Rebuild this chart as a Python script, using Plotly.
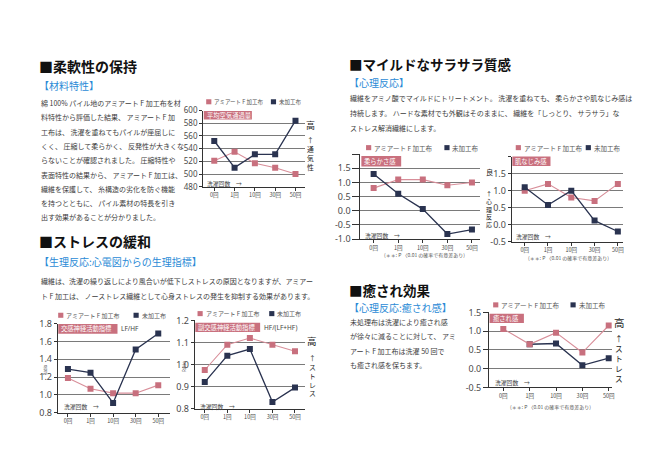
import plotly.graph_objects as go

W, H = 650, 460
JP = "Noto Sans CJK JP"
NUM = "Noto Sans"

def px(x):
    return x / W

def py(y):
    return 1 - y / H

# ---------------- data ----------------
categories = ["0回", "1回", "10回", "30回", "50回"]
series_names = ["アミアート F 加工布", "未加工布"]

air_amiart = [521, 535, 517, 510, 500]
air_untreated = [552, 510, 531, 531, 584]

lfhf_amiart = [1.19, 1.07, 1.02, 1.02, 1.11]
lfhf_untreated = [1.29, 1.25, 0.91, 1.51, 1.69]

hf_amiart = [0.975, 1.09, 1.12, 1.09, 1.06]
hf_untreated = [0.92, 1.04, 1.07, 0.83, 0.895]

soft_amiart = [0.8, 1.1, 1.1, 0.9, 1.0]
soft_untreated = [1.3, 0.6, 0.06, -0.82, -0.66]

skin_amiart = [1.0, 1.2, 0.8, 0.7, 1.2]
skin_untreated = [1.1, 0.58, 1.0, 0.12, -0.2]

heal_amiart = [1.06, 0.65, 0.96, 0.43, 1.15]
heal_untreated = [None, 0.65, 0.67, 0.09, 0.28]

air_ticks = [480, 500, 520, 540, 560, 580, 600]
lfhf_ticks = [0.8, 1.0, 1.2, 1.4, 1.6, 1.8]
hf_ticks = [0.8, 0.9, 1.0, 1.1, 1.2]
soft_ticks = [-1.0, -0.5, 0.0, 0.5, 1.0, 1.5, 2.0]
skin_ticks = [-0.5, 0.0, 0.5, 1.0, 1.5, 2.0]
heal_ticks = [-0.5, 0.0, 0.5, 1.0, 1.5]

PINK = "#c8707e"
PINK_LINE = "#d88e99"
NAVY = "#2a3350"
GRID = "#7a7a7a"
AXIS = "#333333"
TICKC = "#4a4a4a"
BLUE = "#2a8ad6"
BODY = "#3c3c3c"

charts = [
    dict(x0=196, x1=298, yt=98.3, yb=176.7, yr=[480, 600], ticks=air_ticks,
         labels=[str(v) for v in air_ticks], xr=[-0.55, 4.45],
         a=air_amiart, u=air_untreated, tl=3, tfs=8, navy_top=True),
    dict(x0=50, x1=162.3, yt=317.7, yb=409.3, yr=[0.8, 1.8], ticks=lfhf_ticks,
         labels=["%.1f" % v for v in lfhf_ticks], xr=[-0.45, 4.5],
         a=lfhf_amiart, u=lfhf_untreated, tl=3, tfs=9, navy_top=True),
    dict(x0=187.7, x1=298.3, yt=314.3, yb=405, yr=[0.8, 1.2], ticks=hf_ticks,
         labels=["%.1f" % v for v in hf_ticks], xr=[-0.44, 4.44],
         a=hf_amiart, u=hf_untreated, tl=3, tfs=9, navy_top=True),
    dict(x0=354, x1=474, yt=143.1, yb=230.7, yr=[-1.0, 2.0], ticks=soft_ticks,
         labels=["%.1f" % v for v in soft_ticks[:-1]] + [""], xr=[-0.54, 4.32],
         a=soft_amiart, u=soft_untreated, tl=7, tfs=9, navy_top=True),
    dict(x0=506, x1=618.3, yt=145.8, yb=233.3, yr=[-0.5, 2.0], ticks=skin_ticks,
         labels=["%.1f" % v for v in skin_ticks[:-1]] + [""], xr=[-0.56, 4.24],
         a=skin_amiart, u=skin_untreated, tl=3, tfs=9, navy_top=True),
    dict(x0=483.3, x1=606.7, yt=306, yb=383.3, yr=[-0.5, 1.5], ticks=heal_ticks,
         labels=["%.1f" % v for v in heal_ticks], xr=[-0.54, 4.12],
         a=heal_amiart, u=heal_untreated, tl=5, tfs=9, navy_top=False),
]

fig = go.Figure()
layout = dict(width=W, height=H, margin=dict(l=0, r=0, t=0, b=0),
              paper_bgcolor="white", plot_bgcolor="rgba(0,0,0,0)",
              showlegend=False)
xs = list(range(len(categories)))

for i, c in enumerate(charts):
    n = "" if i == 0 else str(i + 1)
    xa, ya = "x" + n, "y" + n
    pink = go.Scatter(x=xs, y=c["a"], xaxis=xa, yaxis=ya, mode="lines+markers",
                      name=series_names[0], line=dict(color=PINK_LINE, width=1.1),
                      marker=dict(symbol="square", size=6, color=PINK))
    navy = go.Scatter(x=xs, y=c["u"], xaxis=xa, yaxis=ya, mode="lines+markers",
                      name=series_names[1], line=dict(color=NAVY, width=1.3),
                      marker=dict(symbol="square", size=6, color=NAVY))
    if c["navy_top"]:
        fig.add_trace(pink)
        fig.add_trace(navy)
    else:
        fig.add_trace(navy)
        fig.add_trace(pink)
    layout["xaxis" + n] = dict(
        domain=[px(c["x0"]), px(c["x1"])], anchor=ya, range=c["xr"],
        tickvals=xs, ticktext=categories, showgrid=False, zeroline=False,
        showline=True, linecolor=AXIS, linewidth=1, ticks="outside", ticklen=3,
        tickcolor=AXIS, tickfont=dict(size=5.5, color=TICKC, family=JP), fixedrange=True)
    layout["yaxis" + n] = dict(
        domain=[py(c["yb"]), py(c["yt"])], anchor=xa, range=c["yr"],
        tickvals=c["ticks"], ticktext=c["labels"], showgrid=True, gridcolor=GRID,
        gridwidth=1, zeroline=False, showline=True, linecolor=AXIS, linewidth=1,
        ticks="outside", ticklen=c["tl"], tickcolor=AXIS,
        tickfont=dict(size=c["tfs"], color=TICKC, family=NUM), fixedrange=True)

ann = []
shapes = []

def txt(x, y, s, size=7, color=BODY, anchor="left", family=JP, angle=0):
    ann.append(dict(x=px(x), y=py(y), xref="paper", yref="paper", text=s,
                    showarrow=False, xanchor=anchor, yanchor="middle",
                    textangle=angle, borderpad=0, align="center",
                    font=dict(size=size, color=color, family=family)))

def rect(x0, y0, x1, y1, color):
    shapes.append(dict(type="rect", xref="paper", yref="paper",
                       x0=px(x0), x1=px(x1), y0=py(y1), y1=py(y0),
                       fillcolor=color, line=dict(width=0), layer="above"))

def vert(x, ytop_char, top_char, ycenter, chars, top_size, size):
    # single top character, then a stacked column of characters
    txt(x, ytop_char, top_char, size=top_size, color="#222", anchor="center")
    txt(x, ycenter, "<br>".join(chars), size=size, color="#222", anchor="center")

# ---------------- headings ----------------
txt(30, 52.5, "<b>■柔軟性の保持</b>", size=14, color="#111")
txt(30, 72.5, "【材料特性】", size=10, color=BLUE)
txt(30, 232.5, "<b>■ストレスの緩和</b>", size=14, color="#111")
txt(30, 253.5, "【生理反応:心電図からの生理指標】", size=10, color=BLUE)
txt(342, 50, "<b>■マイルドなサラサラ質感</b>", size=13.5, color="#111")
txt(342, 69.5, "【心理反応】", size=10, color=BLUE)
txt(342, 282.5, "<b>■癒され効果</b>", size=13.5, color="#111")
txt(342, 301, "【心理反応:癒され感】", size=10, color=BLUE)

# ---------------- body text ----------------
body1 = [
    "綿 100% パイル地のアミアート F 加工布を材",
    "料特性から評価した結果、 アミアート F 加",
    "工布は、 洗濯を重ねてもパイルが座屈しに",
    "くく、 圧縮して柔らかく、 反発性が大きくな",
    "らないことが確認されました。 圧縮特性や",
    "表面特性の結果から、 アミアート F 加工は、",
    "繊維を保護して、 糸構造の劣化を防ぐ機能",
    "を持つとともに、 パイル素材の特長を引き",
    "出す効果があることが分かりました。",
]
for k, line in enumerate(body1):
    txt(32.5, 90.7 + 14.7 * k, line, size=7)

body2 = [
    "繊維は、洗濯の繰り返しにより風合いが低下しストレスの原因となりますが、アミアー",
    "ト F 加工は、 ノーストレス繊維として心身ストレスの発生を抑制する効果があります。",
]
for k, line in enumerate(body2):
    txt(32.5, 273.3 + 16 * k, line, size=7)

body3 = [
    "繊維をアミノ酸でマイルドにトリートメント。 洗濯を重ねても、 柔らかさや肌なじみ感は",
    "持続します。 ハードな素材でも外観はそのままに、 繊維を「しっとり、 サラサラ」な",
    "ストレス解消繊維にします。",
]
for k, line in enumerate(body3):
    txt(342.5, 85 + 15.5 * k, line, size=7)

body4 = [
    "未処理布は洗濯により癒され感",
    "が徐々に減ることに対して、 アミ",
    "アート F 加工布は洗濯 50 回で",
    "も癒され感を保ちます。",
]
for k, line in enumerate(body4):
    txt(342.5, 315.5 + 15 * k, line, size=7)

# ---------------- legends ----------------
legends = [
    (89.3, 201.7, 266.7, 5.5),
    (309.0, 53.0, 128.7, 6),
    (307.3, 193.0, 265.0, 6),
    (136.5, 362.3, 441.0, 6.5),
    (136.5, 512.7, 583.0, 6.5),
    (298.3, 490.0, 567.7, 6.5),
]
for (ly, pxx, nxx, fs) in legends:
    rect(pxx - 2.6, ly - 2.6, pxx + 2.6, ly + 2.6, PINK)
    txt(pxx + 4.5, ly, series_names[0], size=fs, color="#555")
    rect(nxx - 2.6, ly - 2.6, nxx + 2.6, ly + 2.6, NAVY)
    txt(nxx + 4.5, ly, series_names[1], size=fs, color="#555")

# ---------------- title boxes ----------------
boxes = [
    (196.7, 98.8, 245, 107.5, "平均空気通過量"),
    (50.5, 318, 110, 328, "交感神経活動指標"),
    (188.2, 316.7, 253.3, 326.2, "副交感神経活動指標"),
    (355, 145, 395, 156, "柔らかさ感"),
    (506.7, 145.5, 545, 155.5, "肌なじみ感"),
    (483.8, 307.5, 518.3, 317, "癒され感"),
]
for (x0, y0, x1, y1, s) in boxes:
    rect(x0, y0, x1, y1, "#c9707e")
    txt(x0 + 2, (y0 + y1) / 2, s, size=6.3, color="white")
txt(113, 323, "LF/HF", size=6.5, color="#444", family=NUM)
txt(255.7, 321.5, "HF/(LF+HF)", size=6.5, color="#444", family=NUM)

# ---------------- wash count labels ----------------
for (x, y) in [(199, 173), (55, 403), (192, 402.5), (358, 227), (509, 228), (488, 378.5)]:
    txt(x, y, "洗濯回数　→", size=5.8, color="#444")

# ---------------- Ratio labels ----------------
txt(37, 365, "Ratio", size=4.5, color="#555", family=NUM, anchor="center", angle=-90)
txt(177, 362, "Ratio", size=4.5, color="#555", family=NUM, anchor="center", angle=-90)

# ---------------- right side vertical labels ----------------
vert(304, 114, "高", 143, ["↑", "通", "気", "性"], 9, 6.8)
vert(305.7, 335.7, "高", 370.5, ["↑", "ス", "ト", "レ", "ス"], 9.5, 6.8)
vert(483.3, 161.7, "良", 199.5, ["↑", "心", "理", "反", "応"], 7.2, 6)
vert(614, 316.7, "高", 353.5, ["↑", "ス", "ト", "レ", "ス"], 10.5, 7.7)

# ---------------- notes ----------------
note = "(＊＊: P 〈0.01 の確率で有意差あり)"
txt(418, 247.2, note, size=5, color="#555", anchor="center")
txt(563, 250.2, note, size=5, color="#555", anchor="center")
txt(545, 403.2, note, size=5, color="#555", anchor="center")

layout["annotations"] = ann
layout["shapes"] = shapes
fig.update_layout(**layout)
fig.write_html("out.html")
